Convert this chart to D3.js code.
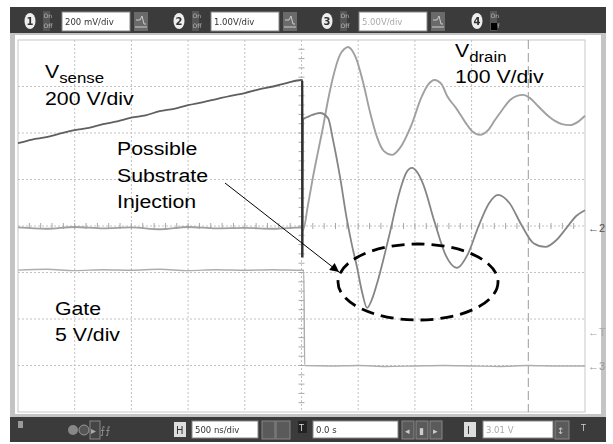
<!DOCTYPE html>
<html><head><meta charset="utf-8">
<script src="https://cdn.jsdelivr.net/npm/d3@7"></script>
<style>body{margin:0;background:#fff}svg{display:block}</style>
</head><body>
<svg id="c" width="613" height="444"></svg>
<script>
// ---- data (time in ns, value in screen divisions from centre) ----
const tSense=[-2500,-2375,-2250,-2125,-2000,-1875,-1750,-1625,-1500,-1375,-1250,-1125,-1000,-875,-750,-625,-500,-375,-250,-125,0,8,10,14,31,75,163,234,278,340,401,445,489,534,578,621,675,772,869,925,974,1025,1076,1173,1270,1371,1468,1565,1654,1733,1835,1940,2046,2152,2249,2337,2425,2500];
const vSense=[1.78,1.86,1.91,1.99,2.06,2.11,2.19,2.25,2.33,2.38,2.47,2.52,2.60,2.66,2.73,2.80,2.86,2.94,3.00,3.08,3.14,3.13,-0.67,2.30,2.32,2.37,2.43,2.32,1.85,1.05,0.13,-0.41,-0.88,-1.42,-1.76,-1.58,-1.16,-0.22,0.77,1.15,1.25,1.14,0.88,0.09,-0.62,-0.90,-0.60,0.02,0.49,0.67,0.49,0.02,-0.37,-0.45,-0.30,-0.04,0.22,0.34];
const tDrain=[-2500,-2250,-2000,-1750,-1500,-1250,-1000,-750,-500,-250,0,13,57,101,145,190,234,278,339,375,410,445,481,542,604,666,727,798,869,969,1058,1120,1173,1235,1283,1362,1442,1504,1574,1645,1706,1768,1839,1900,1953,2015,2085,2156,2235,2297,2368,2438,2500];
const vDrain=[-0.03,-0.06,-0.02,-0.05,-0.03,-0.07,-0.02,-0.05,-0.04,-0.06,-0.03,-0.09,0.45,1.05,1.59,2.13,2.71,3.20,3.68,3.80,3.85,3.78,3.61,3.10,2.45,1.91,1.61,1.53,1.68,2.17,2.77,3.05,3.14,3.05,2.80,2.54,2.24,2.04,1.96,2.06,2.28,2.49,2.71,2.80,2.82,2.75,2.58,2.41,2.26,2.19,2.17,2.24,2.37];
const tGate=[-2500,-2250,-2000,-1750,-1500,-1250,-1000,-750,-500,-250,0,20,28,250,500,750,1000,1250,1500,1750,2000,2250,2500];
const vGate=[-0.95,-0.93,-0.96,-0.94,-0.95,-0.93,-0.96,-0.94,-0.95,-0.94,-0.95,-0.95,-3.00,-3.01,-3.00,-3.02,-3.01,-3.00,-3.01,-3.02,-3.00,-3.01,-3.01];
const xTicks=[-2000,-1500,-1000,-500,0,500,1000,1500,2000];
const yTicks=[-3,-2,-1,0,1,2,3];
const chNums=["1","2","3","4"];
const chScales=["200 mV/div","1.00V/div","5.00V/div",""];
const timeScaleLabel="500 ns/div", delayLabel="0.0 s", trigLabel="3.01 V";

const svg=d3.select('#c');
const x=d3.scaleLinear().domain([-2500,2500]).range([18,585]);
const y=d3.scaleLinear().domain([-4,4]).range([412,40]);

const defs=svg.append('defs');
defs.append('filter').attr('id','soft').append('feGaussianBlur').attr('stdDeviation',0.55);
defs.append('filter').attr('id','soft2').append('feGaussianBlur').attr('stdDeviation',0.35);
defs.append('marker').attr('id','ah').attr('viewBox','0 0 10 10').attr('refX',10).attr('refY',5)
  .attr('markerWidth',12).attr('markerHeight',9).attr('markerUnits','userSpaceOnUse').attr('orient','auto')
  .append('path').attr('d','M0,0L10,5L0,10Z').attr('fill','#000');
const lg=defs.append('linearGradient').attr('id','sg').attr('gradientUnits','userSpaceOnUse')
  .attr('x1',x(-2500)).attr('x2',x(2500)).attr('y1',0).attr('y2',0);
lg.append('stop').attr('offset',0).attr('stop-color','#5e5e5e');
lg.append('stop').attr('offset',0.5).attr('stop-color','#5e5e5e');
lg.append('stop').attr('offset',0.506).attr('stop-color','#858585');
lg.append('stop').attr('offset',1).attr('stop-color','#858585');

// frame
svg.append('rect').attr('x',10).attr('y',32).attr('width',596).attr('height',386).attr('fill','#c4c4c4');
svg.append('rect').attr('x',15).attr('y',35).attr('width',586).attr('height',379).attr('fill','#fff');
svg.append('rect').attr('x',18).attr('y',40).attr('width',567).attr('height',372).attr('fill','none').attr('stroke','#c8c8c8');

// grid
const g=svg.append('g');
g.selectAll('.vx').data(xTicks).join('line').attr('x1',d=>x(d)).attr('x2',d=>x(d)).attr('y1',40).attr('y2',412)
  .attr('stroke',d=>d===2000?'#9a9a9a':'#c2c2c2').attr('stroke-dasharray',d=>d===2000?'9,4':'2,2').attr('stroke-width',1);
g.selectAll('.hy').data(yTicks).join('line').attr('x1',18).attr('x2',585).attr('y1',d=>y(d)).attr('y2',d=>y(d))
  .attr('stroke','#c2c2c2').attr('stroke-dasharray','2,2');
const xMinor=d3.range(-2400,2500,100), yMinor=d3.range(-3.8,3.9,0.2);
g.selectAll('.mx').data(xMinor).join('line').attr('x1',d=>x(d)).attr('x2',d=>x(d)).attr('y1',y(0)-3).attr('y2',y(0)+3).attr('stroke','#a8a8a8');
g.selectAll('.my').data(yMinor).join('line').attr('y1',d=>y(d)).attr('y2',d=>y(d)).attr('x1',x(0)-3).attr('x2',x(0)+3).attr('stroke','#a8a8a8');

// traces
const line=d3.line().x(d=>x(d[0])).y(d=>y(d[1])).curve(d3.curveMonotoneX);
const tr=svg.append('g').attr('fill','none').attr('stroke-linejoin','round').attr('filter','url(#soft2)');
tr.append('path').attr('d',line(tGate.map((t,i)=>[t,vGate[i]]))).attr('stroke','#adadad').attr('stroke-width',1.4);
tr.append('path').attr('d',line(tDrain.map((t,i)=>[t,vDrain[i]]))).attr('stroke','#a0a0a0').attr('stroke-width',1.9);
tr.append('path').attr('d',line(tSense.map((t,i)=>[t,vSense[i]]))).attr('stroke','url(#sg)').attr('stroke-width',1.8);
tr.append('line').attr('x1',x(6)).attr('x2',x(6)).attr('y1',y(3.12)).attr('y2',y(-0.67)).attr('stroke','#333').attr('stroke-width',2.2);

// right-side markers
const mk=svg.append('g').attr('font-family','Liberation Sans, Arial, sans-serif').attr('font-size',11).attr('fill','#555');
mk.append('text').attr('x',588).attr('y',y(-0.05)+4).text('\u21902');
mk.append('text').attr('x',588).attr('y',y(-2.28)+4).attr('fill','#aaa').text('\u2190T');
mk.append('text').attr('x',588).attr('y',y(-3.02)+4).attr('fill','#999').text('\u21903');

// annotations
const ann=svg.append('g').attr('font-family','Liberation Sans, Arial, sans-serif').attr('fill','#000');
function lab(px,py,main,sub){
  const t=ann.append('text').attr('transform',`translate(${px},${py}) scale(1.12,1)`).attr('font-size',19);
  t.append('tspan').text(main);
  if(sub) t.append('tspan').attr('font-size',15).attr('dy',5).text(sub);
}
lab(45,78,'V','sense'); lab(45,105,'200 V/div');
lab(455,57,'V','drain'); lab(455,83,'100 V/div');
lab(117,155,'Possible'); lab(117,182,'Substrate'); lab(117,208,'Injection');
lab(55,315,'Gate'); lab(55,341,'5 V/div');
svg.append('line').attr('x1',225).attr('y1',183).attr('x2',339).attr('y2',272).attr('stroke','#000').attr('stroke-width',1).attr('marker-end','url(#ah)');
svg.append('ellipse').attr('cx',418).attr('cy',282).attr('rx',80).attr('ry',38).attr('fill','none').attr('stroke','#000').attr('stroke-width',2.8).attr('stroke-dasharray','13,7');

// toolbars
const tb=svg.append('g').attr('filter','url(#soft)').attr('font-family','DejaVu Sans, sans-serif');
tb.append('rect').attr('x',10).attr('y',7).attr('width',596).attr('height',26).attr('fill','#3b3b3b');
const chX=[30,179,327,477];
chX.forEach((cx,i)=>{
  tb.append('ellipse').attr('cx',cx).attr('cy',21).attr('rx',5.5).attr('ry',8).attr('fill','#eee');
  tb.append('text').attr('x',cx).attr('y',25).attr('text-anchor','middle').attr('font-size',10).attr('font-weight','bold').attr('fill','#333').text(chNums[i]);
  tb.append('rect').attr('x',cx+13).attr('y',11).attr('width',7).attr('height',20).attr('fill','#555');
  tb.append('text').attr('x',cx+13.5).attr('y',18).attr('font-size',6).attr('fill','#bbb').text('On');
  tb.append('text').attr('x',cx+13.5).attr('y',28).attr('font-size',6).attr('fill','#bbb').text('Off');
  if(i<3){
    tb.append('rect').attr('x',cx+32).attr('y',12).attr('width',68).attr('height',19).attr('fill','#fff').attr('stroke','#888');
    tb.append('text').attr('x',cx+35).attr('y',25).attr('font-size',8.5).attr('fill',i===2?'#aaa':'#333').text(chScales[i]);
    tb.append('rect').attr('x',cx+104).attr('y',12).attr('width',14).attr('height',19).attr('fill','#6a6a6a');
    tb.append('path').attr('d',`M${cx+106},20h4l2,-4l2,8h2`).attr('stroke','#ccc').attr('fill','none');
    tb.append('line').attr('x1',cx+105).attr('x2',cx+117).attr('y1',27).attr('y2',27).attr('stroke','#ccc');
  } else {
    tb.append('rect').attr('x',cx+14).attr('y',23).attr('width',6).attr('height',7).attr('fill','#000');
  }
});
tb.append('rect').attr('x',10).attr('y',417).attr('width',596).attr('height',25).attr('fill','#3b3b3b');
tb.append('rect').attr('x',18).attr('y',421).attr('width',5).attr('height',7).attr('fill','#999');
tb.append('circle').attr('cx',73).attr('cy',430).attr('r',5).attr('fill','#888');
tb.append('circle').attr('cx',84).attr('cy',430).attr('r',5).attr('fill','#555').attr('stroke','#999');
tb.append('rect').attr('x',90).attr('y',421).attr('width',10).attr('height',18).attr('fill','#444').attr('stroke','#888');
tb.append('text').attr('x',91).attr('y',434).attr('font-size',10).attr('fill','#aaa').text('\u25b8');
tb.append('text').attr('x',100).attr('y',434).attr('font-size',10).attr('fill','#999').text('\u2a0d\u2a0d');
tb.append('rect').attr('x',174).attr('y',422).attr('width',12).attr('height',15).attr('fill','#ddd');
tb.append('text').attr('x',176).attr('y',434).attr('font-size',10).attr('fill','#333').text('H');
const bx=[[192,66,timeScaleLabel,'#333'],[313,85,delayLabel,'#333'],[483,70,trigLabel,'#aaa']];
bx.forEach(b=>{
  tb.append('rect').attr('x',b[0]).attr('y',421).attr('width',b[1]).attr('height',17).attr('fill','#fff').attr('stroke','#888');
  tb.append('text').attr('x',b[0]+3).attr('y',433).attr('font-size',8.5).attr('fill',b[3]).text(b[2]);
});
[[262,13],[276,14],[402,12],[416,12],[430,12],[555,14]].forEach(b=>{
  tb.append('rect').attr('x',b[0]).attr('y',421).attr('width',b[1]).attr('height',18).attr('fill','#5a5a5a').attr('stroke','#888');
});
tb.append('text').attr('x',405).attr('y',434).attr('font-size',9).attr('fill','#ccc').text('\u25c2');
tb.append('text').attr('x',419).attr('y',434).attr('font-size',9).attr('fill','#ccc').text('\u25ae');
tb.append('text').attr('x',433).attr('y',434).attr('font-size',9).attr('fill','#ccc').text('\u25b8');
tb.append('text').attr('x',557).attr('y',434).attr('font-size',9).attr('fill','#ccc').text('\u2195');
tb.append('rect').attr('x',298).attr('y',421).attr('width',9).attr('height',12).attr('fill','#222');
tb.append('text').attr('x',299).attr('y',431).attr('font-size',8).attr('fill','#ddd').text('T');
tb.append('rect').attr('x',464).attr('y',422).attr('width',12).attr('height',15).attr('fill','#ddd');
tb.append('text').attr('x',467).attr('y',434).attr('font-size',10).attr('fill','#333').text('I');
tb.append('text').attr('x',581).attr('y',431).attr('font-size',8).attr('fill','#ccc').text('T');
</script>
</body></html>
